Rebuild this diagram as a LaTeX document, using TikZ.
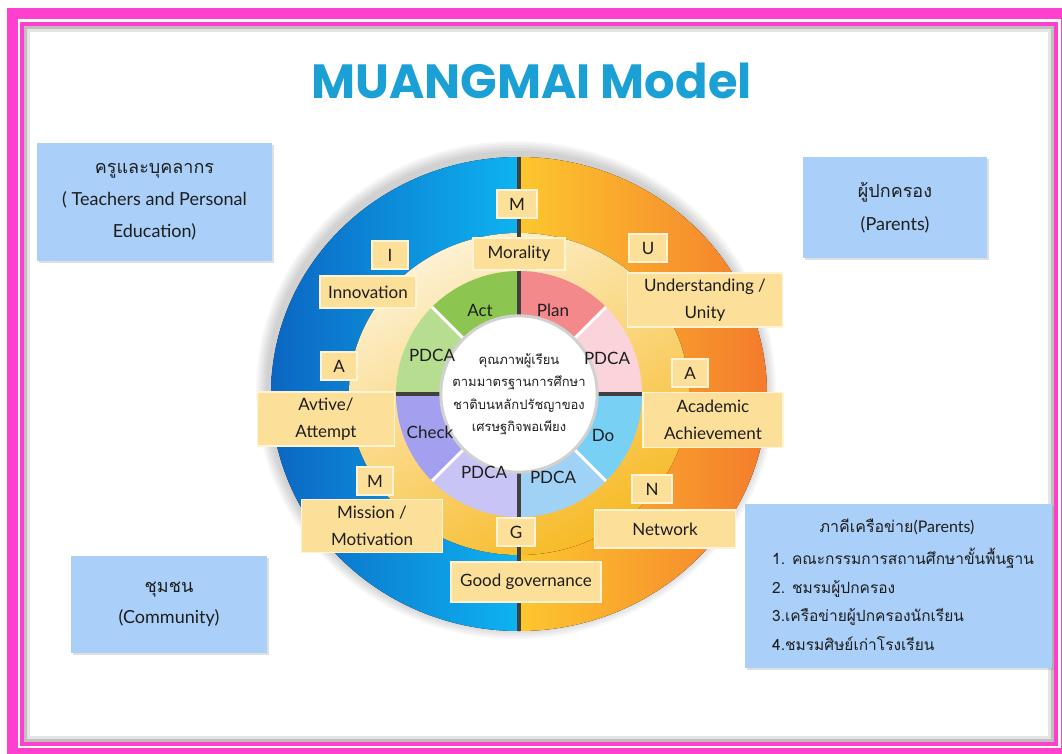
\documentclass[tikz,border=0pt]{standalone}
\usepackage{fontspec}
\setmainfont{Lato}
\newfontfamily\thaifont[Script=Thai]{Loma}
\newfontfamily\titlefont{Poppins}
\usetikzlibrary{shadows}

\definecolor{framepink}{HTML}{FF3FCE}
\definecolor{titleblue}{HTML}{1BA0D6}
\definecolor{skyfill}{HTML}{AACFF8}
\definecolor{tagfill}{HTML}{FCDF98}
\definecolor{tagline}{HTML}{FFF3D6}
\definecolor{ink}{HTML}{1E1E1E}
\definecolor{divgray}{HTML}{404040}
\definecolor{blueedge}{HTML}{0B66C2}
\definecolor{bluemid}{HTML}{0A9AE2}
\definecolor{bluein}{HTML}{0EB3F1}
\definecolor{orangein}{HTML}{FDC72E}
\definecolor{orangemid}{HTML}{F9A437}
\definecolor{orangeedge}{HTML}{F47B2C}
\definecolor{ringtop}{HTML}{FDF1D2}
\definecolor{ringmid}{HTML}{FBD57A}
\definecolor{ringbot}{HTML}{F7BA26}
\definecolor{planc}{HTML}{F4898C}
\definecolor{plansoft}{HTML}{FAD4DA}
\definecolor{actc}{HTML}{8CC650}
\definecolor{actsoft}{HTML}{B7DD91}
\definecolor{checkc}{HTML}{A3A0F0}
\definecolor{checksoft}{HTML}{C8C4F5}
\definecolor{doc}{HTML}{78D0F5}
\definecolor{dosoft}{HTML}{A0D2F5}

\tikzset{
  tag/.style={draw=tagline, line width=1.2pt, fill=tagfill, text=ink, inner sep=0pt, align=center, font=\fontsize{17}{27}\selectfont},
  sidebox/.style={fill=skyfill, text=ink, inner sep=0pt, align=center, drop shadow={opacity=0.25, shadow xshift=2pt, shadow yshift=-2pt}},
  seg/.style={text=ink, font=\fontsize{17}{20}\selectfont},
  divider/.style={draw=divgray, line width=4pt},
}

\begin{document}
\begin{tikzpicture}[x=1pt, y=1pt]
	\useasboundingbox (0,0) rectangle (1062,-754);
	\clip (0,0) rectangle (1062,-754);
	\fill[white] (0,0) rectangle (1062,-754);
	
	% frame
	\draw[framepink, line width=11pt] (12.5,-13.5) rectangle (1066,-753.5);
	\draw[framepink, line width=4pt] (22,-24) rectangle (1056,-743.5);
	\fill[white] (24,-26) rectangle (1054,-741.5);
	\draw[black, opacity=0.25, line width=3pt] (25.5,-27.5) rectangle (1052.5,-740);
	\draw[black, opacity=0.10, line width=3pt] (28.5,-30.5) rectangle (1049.5,-737);
	
	\node[font=\titlefont\bfseries\fontsize{48}{50}\selectfont, text=titleblue, anchor=base] (title) at (531.5,-99) {MUANGMAI Model};
	
	% wheel
	\coordinate (hub) at (519,-394);
	\foreach \d in {2,4,...,12}
		\fill[black, opacity=0.03] (516,-390) ellipse[x radius=248+\d, y radius=237+\d];
	\fill[left color=blueedge, middle color=bluemid, right color=bluein] (519,-157) arc[start angle=90, end angle=270, x radius=248, y radius=237] -- cycle;
	\fill[left color=orangein, middle color=orangemid, right color=orangeedge] (519,-631) arc[start angle=-90, end angle=90, x radius=248, y radius=237] -- cycle;
	\fill[top color=ringtop, middle color=ringmid, bottom color=ringbot, shading angle=30] (hub) ellipse[x radius=170, y radius=161];
	
	\foreach \a/\col in {0/plansoft, 45/planc, 90/actc, 135/actsoft, 180/checkc, 225/checksoft, 270/dosoft, 315/doc}
		\fill[\col] (hub) -- ++(\a:123) arc[start angle=\a, end angle=\a+45, radius=123] -- cycle;
	\foreach \a in {45,135,225,315}
		\draw[white, line width=3pt] (hub) -- ++(\a:123);
	\draw[divider] (396,-394) -- (642,-394);
	\draw[divider] (519,-157) -- (519,-631);
	
	\node[circle, minimum size=134pt, inner sep=0pt, fill=white, draw=black!18, line width=3pt, text=ink, align=center, font=\thaifont\fontsize{13}{22.5}\selectfont] (core) at (hub) {คุณภาพผู้เรียน\\ตามมาตรฐานการศึกษา\\ชาติบนหลักปรัชญาของ\\เศรษฐกิจพอเพียง};
	
	\node[seg] (act) at (480,-310) {Act};
	\node[seg] (plan) at (553,-310) {Plan};
	\node[seg] (pdcaul) at (432,-355) {PDCA};
	\node[seg] (pdcaur) at (607,-358) {PDCA};
	\node[seg] (check) at (430,-432) {Check};
	\node[seg] (do) at (603,-435) {Do};
	\node[seg] (pdcall) at (484,-472) {PDCA};
	\node[seg] (pdcalr) at (553,-477) {PDCA};
	
	% letters and values
	\node[tag, minimum width=40pt, minimum height=28pt] (mtop) at (517,-204) {M};
	\node[tag, minimum width=92pt, minimum height=32pt] (morality) at (519,-254) {Morality};
	\node[tag, minimum width=36pt, minimum height=28pt] (itag) at (390,-255) {I};
	\node[tag, minimum width=96pt, minimum height=32pt] (innovation) at (368,-292) {Innovation};
	\node[tag, minimum width=38pt, minimum height=28pt] (utag) at (648,-248) {U};
	\node[tag, minimum width=155pt, minimum height=54pt] (understanding) at (705,-300) {Understanding /\\Unity};
	\node[tag, minimum width=36pt, minimum height=28pt] (aleft) at (339,-366) {A};
	\node[tag, minimum width=137pt, minimum height=54pt] (active) at (326,-419) {Avtive/\\Attempt};
	\node[tag, minimum width=36pt, minimum height=28pt] (aright) at (690,-373) {A};
	\node[tag, minimum width=140pt, minimum height=55pt] (academic) at (713,-420) {Academic\\Achievement};
	\node[tag, minimum width=36pt, minimum height=28pt] (mlow) at (375,-481) {M};
	\node[tag, minimum width=141pt, minimum height=53pt] (mission) at (372,-526) {Mission /\\Motivation};
	\node[tag, minimum width=38pt, minimum height=28pt] (gtag) at (516,-532) {G};
	\node[tag, minimum width=150pt, minimum height=40pt] (governance) at (526,-582) {Good governance};
	\node[tag, minimum width=40pt, minimum height=28pt] (ntag) at (652,-489) {N};
	\node[tag, minimum width=141pt, minimum height=38pt] (network) at (665,-529) {Network};
	
	% side boxes
	\node[sidebox, minimum width=235pt, minimum height=118pt, font=\fontsize{18}{32}\selectfont] (staff) at (154.5,-202) {{\thaifont ครูและบุคลากร}\\( Teachers and Personal\\Education)};
	\node[sidebox, minimum width=184pt, minimum height=101pt, font=\fontsize{18}{33}\selectfont] (parents) at (895,-207.5) {{\thaifont ผู้ปกครอง}\\(Parents)};
	\node[sidebox, minimum width=196pt, minimum height=97pt, font=\fontsize{18}{31}\selectfont] (community) at (169,-604.5) {{\thaifont ชุมชน}\\(Community)};
	\node[sidebox, minimum width=307pt, minimum height=164pt] (partners) at (898.5,-586) {};
	\node[text=ink, font=\fontsize{16}{20}\selectfont] (partnerstitle) at (897,-527) {{\thaifont ภาคีเครือข่าย}(Parents)};
	\node[text=ink, anchor=west, align=left, inner sep=0pt, font=\thaifont\fontsize{15.5}{28.5}\selectfont] (partnerslist) at (772,-599.5) {1. คณะกรรมการสถานศึกษาขั้นพื้นฐาน\\2. ชมรมผู้ปกครอง\\3.เครือข่ายผู้ปกครองนักเรียน\\4.ชมรมศิษย์เก่าโรงเรียน};
\end{tikzpicture}
\end{document}
